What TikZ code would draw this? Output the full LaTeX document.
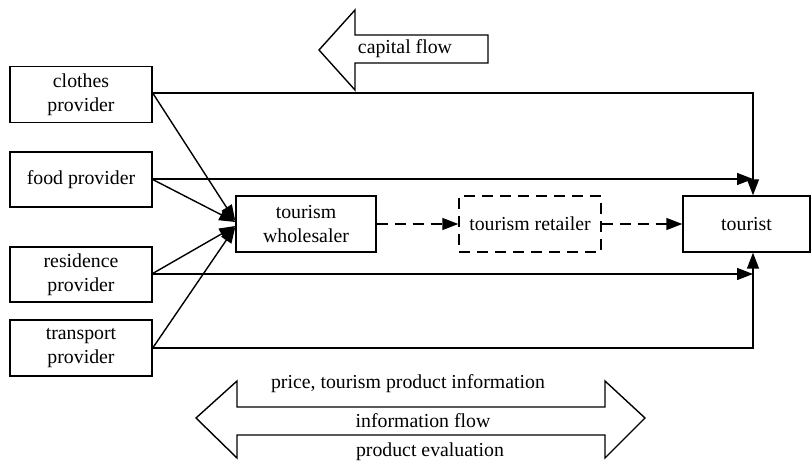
\documentclass[tikz,border=0pt]{standalone}
\usepackage{fontspec}
\setmainfont{Liberation Serif}
\usetikzlibrary{arrows.meta,calc}
\begin{document}
\begin{tikzpicture}[x=1pt,y=-1pt,
  every node/.style={font=\fontsize{19.8}{24}\selectfont, align=center, inner sep=0pt},
  boxn/.style={draw, line width=1.4pt, minimum width=142pt, minimum height=56pt},
  arr/.style={line width=1.4pt, -{Triangle[length=16pt,width=12pt]}},
  dsh/.style={line width=1.4pt, dash pattern=on 11pt off 7pt},
  blk/.style={draw, line width=1.4pt, line join=miter}]
\useasboundingbox (0,0) rectangle (812,462);
% boxes
\node[boxn] (clothes) at (81,94.5) {clothes\\provider};
\node[boxn, minimum height=55pt] (food) at (81,179.5) {food provider};
\node[boxn, minimum height=55pt] (residence) at (81,274.5) {residence\\provider};
\node[boxn] (transport) at (81,348) {transport\\provider};
\node[boxn, minimum width=140pt] (ws) at (306,224) {tourism\\wholesaler};
\node[boxn, dsh] (rt) at (530,224) {tourism retailer};
\node[boxn, minimum width=127pt] (tourist) at (746.5,224) {tourist};
% corner coordinates
\coordinate (c1) at (753,93);
\coordinate (c2) at (753,179);
\coordinate (c3) at (753,274);
\coordinate (c4) at (753,348);
% diagonal arrows to wholesaler
\draw[arr] (clothes.east |- c1) -- ([yshift=3pt]ws.west);
\draw[arr] (food.east) -- ([yshift=2pt]ws.west);
\draw[arr] ([yshift=1pt]residence.east) -- ([yshift=-2pt]ws.west);
\draw[arr] (transport.east) -- ([yshift=-3pt]ws.west);
% long connectors to tourist
\draw[arr] (clothes.east |- c1) -- (c1) -- (c1 |- tourist.north);
\draw[arr] (food.east |- c2) -- (c2);
\draw[arr] (residence.east |- c3) -- (c3);
\draw[arr] (transport.east |- c4) -- (c4) -- (c4 |- tourist.south);
% dashed chain
\draw[dsh, -{Triangle[length=16pt,width=12pt]}] (ws.east) -- (rt.west);
\draw[dsh, -{Triangle[length=16pt,width=12pt]}] (rt.east) -- (tourist.west);
% capital flow block arrow
\draw[blk] (319,50) -- (355,10) -- (355,35) -- (488,35) -- (488,63) -- (355,63) -- (355,90) -- cycle;
\node (cap) at (405,49) {capital flow};
% information flow double block arrow
\draw[blk] (196,418) -- (237,381) -- (237,407) -- (605,407) -- (605,381) -- (645,418)
  -- (605,458) -- (605,435) -- (237,435) -- (237,458) -- cycle;
\node (price) at (408,384) {price, tourism product information};
\node (info) at (423,421) {information flow};
\node (eval) at (430,452) {product evaluation};
\end{tikzpicture}
\end{document}
